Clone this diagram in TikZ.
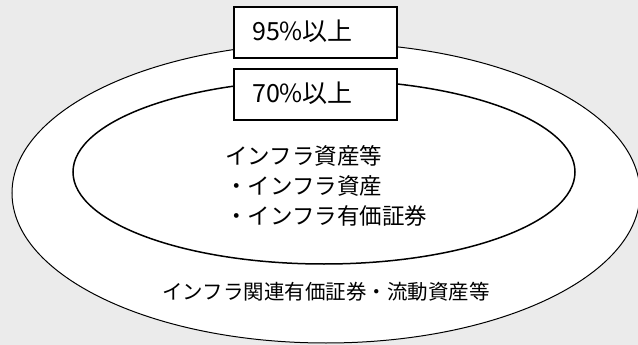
\documentclass[tikz,border=0pt]{standalone}
\usepackage{fontspec}
\setmainfont{Noto Sans CJK JP}
\usetikzlibrary{shapes.geometric}
\definecolor{bggray}{HTML}{EBEBEB}
\tikzset{
  ring/.style={draw=black, fill=white, ellipse, inner sep=0pt},
  labelbox/.style={draw=black, fill=white, line width=2pt, minimum width=163pt, minimum height=51pt, inner sep=0pt},
  txt/.style={inner sep=0pt, text=black}
}
\begin{document}
\begin{tikzpicture}[x=1pt,y=-1pt]
\useasboundingbox (0,0) rectangle (638,345);
\fill[bggray] (0,0) rectangle (638,345);
\begin{scope}
\clip (0,0) rectangle (638,345);
\node[ring, line width=1pt, minimum width=628pt, minimum height=300pt] (outer) at (326,193) {};
\end{scope}
\node[ring, line width=1.5pt, minimum width=502pt, minimum height=184pt] (inner) at (324,172) {};
\node[labelbox] (b95) at (315.5,32.5) {};
\node[labelbox] (b70) at (315.5,94.5) {};
\node[txt, font=\fontsize{25}{28}\selectfont, anchor=west] (t95) at (252,31) {95\%以上};
\node[txt, font=\fontsize{25}{28}\selectfont, anchor=west] (t70) at (252,93) {70\%以上};
\node[txt, font=\fontsize{22.5}{30}\selectfont, align=left, anchor=north west] (tin) at (225,145) {インフラ資産等\\・インフラ資産\\・インフラ有価証券};
\node[txt, font=\fontsize{20.5}{24}\selectfont] (tout) at (326,292) {インフラ関連有価証券・流動資産等};
\end{tikzpicture}
\end{document}
